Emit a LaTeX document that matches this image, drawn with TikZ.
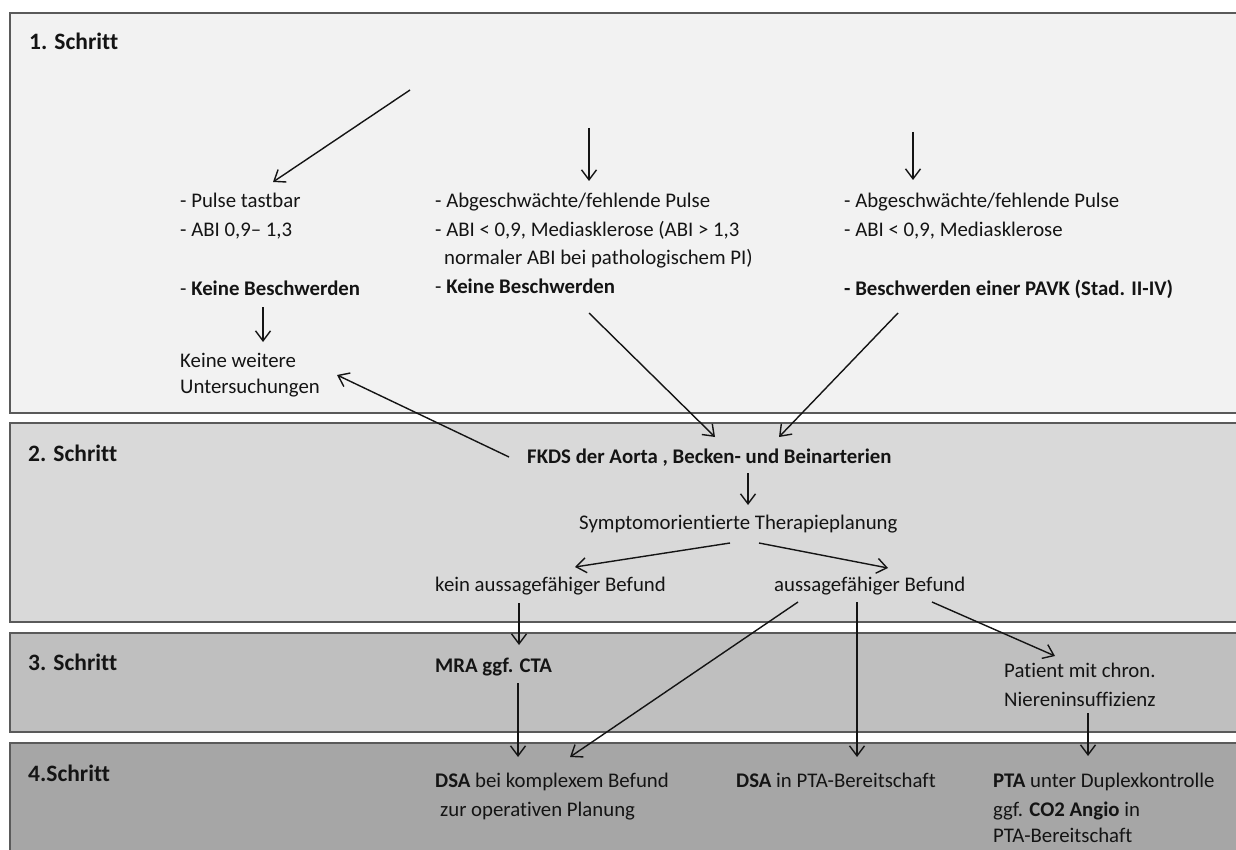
\documentclass[tikz,border=0pt]{standalone}
\usepackage{fontspec}
\setmainfont{Carlito}[Ligatures=NoCommon]
\usetikzlibrary{arrows.meta}
\definecolor{bgone}{HTML}{F2F2F2}
\definecolor{bgtwo}{HTML}{D9D9D9}
\definecolor{bgthree}{HTML}{BFBFBF}
\definecolor{bgfour}{HTML}{A6A6A6}
\definecolor{frameclr}{HTML}{5A5A5A}
\definecolor{ink}{HTML}{141414}
\begin{document}
\begin{tikzpicture}[x=1pt,y=-1pt,
  band/.style={draw=frameclr,line width=1.3pt},
  txt/.style={anchor=base west,inner sep=0pt,text=ink,font=\fontsize{20.8}{25}\selectfont},
  head/.style={anchor=base west,inner sep=0pt,text=ink,font=\fontsize{23.5}{28}\selectfont\bfseries},
  arr/.style={draw=ink,line width=1.4pt,-{Straight Barb[length=10pt,width=15pt,line width=1.4pt]}}
]
\useasboundingbox (0,0) rectangle (1236,850);
\clip (0,0) rectangle (1236,850);
\fill[white] (0,0) rectangle (1236,850);
% bands
\draw[band,fill=bgone]   (10,13)  rectangle (1260,413);
\draw[band,fill=bgtwo]   (10,423) rectangle (1260,622);
\draw[band,fill=bgthree] (10,633) rectangle (1260,732);
\draw[band,fill=bgfour]  (10,743) rectangle (1260,880);
% headings
\node[head] (h1) at (29,50)  {1. Schritt};
\node[head] (h2) at (28,461) {2. Schritt};
\node[head] (h3) at (28,670) {3. Schritt};
\node[head] (h4) at (28,781) {4.Schritt};
% column 1
\node[txt] (c1a) at (180,208) {- Pulse tastbar};
\node[txt] (c1b) at (180,237) {- ABI 0,9– 1,3};
\node[txt] (c1c) at (180,295) {- \textbf{Keine Beschwerden}};
\node[txt] (kw1) at (180,367) {Keine weitere};
\node[txt] (kw2) at (180,393) {Untersuchungen};
% column 2
\node[txt] (c2a) at (435,208) {- Abgeschwächte/fehlende Pulse};
\node[txt] (c2b) at (435,237) {- ABI < 0,9, Mediasklerose (ABI > 1,3};
\node[txt] (c2c) at (444,265) {normaler ABI bei pathologischem PI)};
\node[txt] (c2d) at (435,294) {- \textbf{Keine Beschwerden}};
% column 3
\node[txt] (c3a) at (844,208) {- Abgeschwächte/fehlende Pulse};
\node[txt] (c3b) at (844,237) {- ABI < 0,9, Mediasklerose};
\node[txt] (c3c) at (844,295) {\textbf{- Beschwerden einer PAVK (Stad. II-IV)}};
% step 2
\node[txt] (fkds) at (527,463) {\textbf{FKDS der Aorta , Becken- und Beinarterien}};
\node[txt] (sym)  at (579,529) {Symptomorientierte Therapieplanung};
\node[txt] (kein) at (435,591) {kein aussagefähiger Befund};
\node[txt] (aus)  at (774,591) {aussagefähiger Befund};
% step 3
\node[txt] (mra) at (435,672) {\textbf{MRA ggf. CTA}};
\node[txt] (pat1) at (1004,677) {Patient mit chron.};
\node[txt] (pat2) at (1004,706) {Niereninsuffizienz};
% step 4
\node[txt] (dsa1) at (435,787) {\textbf{DSA} bei komplexem Befund};
\node[txt] (dsa2) at (440,816) {zur operativen Planung};
\node[txt] (dsb)  at (736,787) {\textbf{DSA} in PTA-Bereitschaft};
\node[txt] (pta1) at (993,787) {\textbf{PTA} unter Duplexkontrolle};
\node[txt] (pta2) at (993,816) {ggf. \textbf{CO2 Angio} in};
\node[txt] (pta3) at (993,842) {PTA-Bereitschaft};
% connector end points
\coordinate (s1) at (410,90);   \coordinate (e1) at (273,182);
\coordinate (s2) at (589,128);  \coordinate (e2) at (589,181);
\coordinate (s3) at (913,132);  \coordinate (e3) at (913,180);
\coordinate (s4) at (263,307);  \coordinate (e4) at (263,342);
\coordinate (s5) at (589,313);  \coordinate (e5) at (715,437);
\coordinate (s6) at (898,313);  \coordinate (e6) at (779,437);
\coordinate (s7) at (509,457);  \coordinate (e7) at (337,375);
\coordinate (s8) at (748,473);  \coordinate (e8) at (748,505);
\coordinate (s9) at (730,543);  \coordinate (e9) at (575,567);
\coordinate (s10) at (759,543); \coordinate (e10) at (888,568);
\coordinate (s11) at (519,603); \coordinate (e11) at (519,645);
\coordinate (s12) at (518,683); \coordinate (e12) at (518,757);
\coordinate (s13) at (798,602); \coordinate (e13) at (570,757);
\coordinate (s14) at (857,602); \coordinate (e14) at (857,757);
\coordinate (s15) at (932,602); \coordinate (e15) at (1055,656);
\coordinate (s16) at (1088,713); \coordinate (e16) at (1088,756);
% connectors
\draw[arr] (s1) -- (e1);
\draw[arr] (s2) -- (e2);
\draw[arr] (s3) -- (e3);
\draw[arr] (s4) -- (e4);
\draw[arr] (s5) -- (e5);
\draw[arr] (s6) -- (e6);
\draw[arr] (s7) -- (e7);
\draw[arr] (s8) -- (e8);
\draw[arr] (s9) -- (e9);
\draw[arr] (s10) -- (e10);
\draw[arr] (s11) -- (e11);
\draw[arr] (s12) -- (e12);
\draw[arr] (s13) -- (e13);
\draw[arr] (s14) -- (e14);
\draw[arr] (s15) -- (e15);
\draw[arr] (s16) -- (e16);
\end{tikzpicture}
\end{document}
